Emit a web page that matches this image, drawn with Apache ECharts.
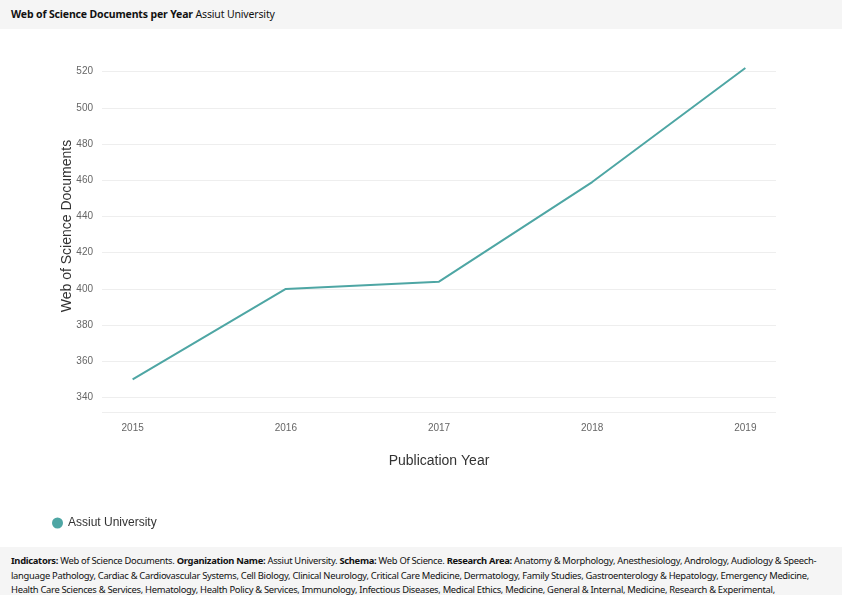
<!DOCTYPE html>
<html>
<head>
<meta charset="utf-8">
<script src="https://cdn.jsdelivr.net/npm/echarts@6/dist/echarts.min.js"></script>
<style>
html,body{margin:0;padding:0;width:842px;height:595px;overflow:hidden;background:#fff;font-family:"Noto Sans",sans-serif;}
#hdr{position:absolute;left:0;top:0;width:842px;height:29px;background:#f5f5f5;font-size:10.5px;line-height:29px;color:#111;letter-spacing:-0.15px;}
#hdr span.t{font-weight:bold;margin-left:11px;}
#chart{position:absolute;left:0;top:29px;width:842px;height:518px;}
#ftr{position:absolute;left:0;top:547px;width:842px;height:48px;background:#f5f5f5;font-size:9.4px;line-height:14.6px;color:#111;padding:7px 0 0 11px;box-sizing:border-box;white-space:nowrap;letter-spacing:-0.3px;}
#ftr b{font-weight:bold;}
</style>
</head>
<body>
<div id="hdr"><span class="t">Web of Science Documents per Year</span> <span>Assiut University</span></div>
<div id="chart"></div>
<div id="ftr"><b>Indicators:</b> Web of Science Documents. <b>Organization Name:</b> Assiut University. <b>Schema:</b> Web Of Science. <b>Research Area:</b> Anatomy &amp; Morphology, Anesthesiology, Andrology, Audiology &amp; Speech-<br>language Pathology, Cardiac &amp; Cardiovascular Systems, Cell Biology, Clinical Neurology, Critical Care Medicine, Dermatology, Family Studies, Gastroenterology &amp; Hepatology, Emergency Medicine,<br>Health Care Sciences &amp; Services, Hematology, Health Policy &amp; Services, Immunology, Infectious Diseases, Medical Ethics, Medicine, General &amp; Internal, Medicine, Research &amp; Experimental,</div>
<script>
const years = [2015, 2016, 2017, 2018, 2019];
const documents = [350, 400, 404, 459, 522];
const seriesName = 'Assiut University';

const chart = echarts.init(document.getElementById('chart'), null, {renderer: 'canvas'});
chart.setOption({
  animation: false,
  grid: {left: 102, right: 66, top: 39, bottom: 135, containLabel: false},
  xAxis: {
    type: 'value', min: 2014.8, max: 2019.2,
    name: 'Publication Year', nameLocation: 'middle', nameGap: 42,
    nameTextStyle: {fontFamily: 'Liberation Sans', fontSize: 14, color: '#333'},
    axisLine: {show: false}, axisTick: {show: false},
    splitLine: {show: false},
    axisLabel: {
      fontFamily: 'Liberation Sans', fontSize: 10, color: '#666', margin: 11,
      showMinLabel: false, showMaxLabel: false,
      formatter: v => Number.isInteger(v) ? String(v) : ''
    }
  },
  yAxis: {
    type: 'value', min: 332, max: 522, splitNumber: 9,
    name: 'Web of Science Documents', nameLocation: 'middle', nameGap: 28,
    nameMoveOverlap: false,
    nameTextStyle: {fontFamily: 'Liberation Sans', fontSize: 14, color: '#333', padding: [0, 0, 0, 28]},
    axisLine: {show: false}, axisTick: {show: false},
    splitLine: {show: true, showMaxLine: false, lineStyle: {color: '#eeeeee', width: 1}},
    axisLabel: {
      fontFamily: 'Liberation Sans', fontSize: 10, color: '#666', margin: 9,
      formatter: v => (v % 20 === 0) ? String(v) : ''
    }
  },
  legend: {
    left: 47, bottom: 13, icon: 'circle', itemWidth: 11, itemHeight: 11, itemGap: 10,
    textStyle: {fontFamily: 'Liberation Sans', fontSize: 12, color: '#333'},
    data: [seriesName]
  },
  series: [{
    name: seriesName, type: 'line',
    data: years.map((y, i) => [y, documents[i]]),
    showSymbol: false, symbol: 'circle',
    lineStyle: {color: '#4ea6a4', width: 2},
    itemStyle: {color: '#4ea6a4'}
  }]
});
</script>
</body>
</html>
